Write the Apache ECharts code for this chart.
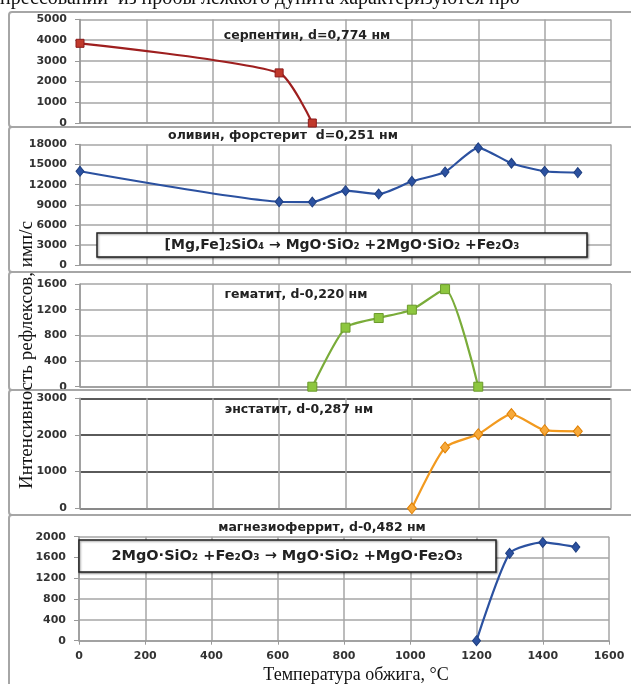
<!DOCTYPE html>
<html>
<head>
<meta charset="utf-8">
<script src="https://cdn.jsdelivr.net/npm/echarts@6.0.0/dist/echarts.min.js"></script>
<style>
html, body { margin: 0; padding: 0; background: #fff; }
#chart { width: 631px; height: 684px; }
</style>
</head>
<body>
<div id="chart"></div>
<script>
// температура обжига, °C / интенсивность, имп/с
var serpT = [0, 600, 700];
var serpV = [3850, 2420, 0];

var olivT = [0, 600, 700, 800, 900, 1000, 1100, 1200, 1300, 1400, 1500];
var olivV = [14000, 9450, 9400, 11100, 10600, 12500, 13900, 17500, 15200, 14000, 13800];

var hemT = [700, 800, 900, 1000, 1100, 1200];
var hemV = [0, 920, 1070, 1200, 1520, 0];

var enstT = [1000, 1100, 1200, 1300, 1400, 1500];
var enstV = [0, 1660, 2020, 2570, 2130, 2100];

var magT = [1200, 1300, 1400, 1500];
var magV = [0, 1680, 1890, 1800];

// шкалы
var xMax = 1600, xStep = 200;
var yMax = [5000, 18000, 1600, 3000, 2000];
var yStep = [1000, 3000, 400, 1000, 400];

var names = ['серпентин, d=0,774 нм', 'оливин, форстерит  d=0,251 нм', 'гематит, d-0,220 нм',
             'энстатит, d-0,287 нм', 'магнезиоферрит, d-0,482 нм'];
var eq1 = '[Mg,Fe]₂SiO₄ → MgO·SiO₂ +2MgO·SiO₂ +Fe₂O₃';
var eq2 = '2MgO·SiO₂ +Fe₂O₃ → MgO·SiO₂ +MgO·Fe₂O₃';

function zip(t, v) {
    let out = [];
    for (let i = 0; i < t.length; i++) out.push([t[i], v[i]]);
    return out;
}

var myChart = echarts.init(document.getElementById('chart'));

// расположение панелей
var gridTop = [19.5, 144.5, 284, 398.3, 536.7];
var gridH = [103.5, 120.5, 102.7, 110, 104];
var panelTop = [12, 127, 272, 390, 515, 700];
var titlePos = [[307, 36], [283, 136], [296, 295], [299, 410], [322, 528]];

var labelFont = { color: '#333', fontSize: 11, fontWeight: 'bold', fontFamily: 'DejaVu Sans',
                  formatter: function (v) { return String(v); } };

var grids = [], xAxes = [], yAxes = [];
for (let i = 0; i < 5; i++) {
    grids.push({ left: i == 4 ? 79 : 80, right: i == 4 ? 22 : 20, top: gridTop[i], height: gridH[i] });
    xAxes.push({
        gridIndex: i, type: 'value', min: 0, max: xMax, interval: xStep,
        axisLine: { show: true, lineStyle: { color: '#999', width: 1.5 } },
        axisTick: { show: i == 4, length: 4, lineStyle: { color: '#999' } },
        axisLabel: Object.assign({ show: i == 4, margin: 10 }, labelFont),
        splitLine: { show: true, lineStyle: { color: '#a6a6a6', width: 1.5 } }
    });
    yAxes.push({
        gridIndex: i, type: 'value', min: 0, max: yMax[i], interval: yStep[i],
        axisLine: { show: true, lineStyle: { color: '#999', width: 1.5 } },
        axisTick: { show: true, length: 5, lineStyle: { color: '#999' } },
        axisLabel: Object.assign({ margin: 13 }, labelFont),
        splitLine: { show: true, lineStyle: i == 3 ? { color: '#5a5a5a', width: 2 } : { color: '#a6a6a6', width: 1.5 } }
    });
}

function line(idx, data, color, symbol, fill, border, size) {
    return {
        type: 'line', xAxisIndex: idx, yAxisIndex: idx, data: data,
        smooth: 0.2, symbol: symbol, symbolSize: size,
        lineStyle: { color: color, width: 2.2 },
        itemStyle: { color: fill, borderColor: border, borderWidth: 1 },
        z: 5
    };
}

var graphics = [];
// рамки панелей
for (let i = 0; i < 5; i++) {
    graphics.push({
        type: 'rect', shape: { x: 9, y: panelTop[i], width: 640, height: panelTop[i + 1] - panelTop[i], r: 3 },
        style: { fill: 'none', stroke: '#a6a6a6', lineWidth: 2 }, z: 1
    });
}
// заголовки панелей
for (let i = 0; i < 5; i++) {
    graphics.push({
        type: 'text', x: titlePos[i][0], y: titlePos[i][1],
        style: { text: names[i], align: 'center', verticalAlign: 'middle',
                 font: 'bold 12.5px "DejaVu Sans"', fill: '#222' }, z: 20
    });
}
// уравнения реакций
graphics.push({
    type: 'rect', shape: { x: 97, y: 233, width: 490, height: 24 },
    style: { fill: '#fff', stroke: '#222', lineWidth: 1.5, shadowBlur: 2, shadowOffsetX: 1, shadowOffsetY: 1, shadowColor: 'rgba(0,0,0,0.4)' }, z: 20
});
graphics.push({
    type: 'text', x: 342, y: 245.5,
    style: { text: eq1, align: 'center', verticalAlign: 'middle', font: 'bold 14px "DejaVu Sans"', fill: '#222' }, z: 21
});
graphics.push({
    type: 'rect', shape: { x: 79, y: 540, width: 417, height: 32 },
    style: { fill: '#fff', stroke: '#222', lineWidth: 1.5, shadowBlur: 2, shadowOffsetX: 1, shadowOffsetY: 1, shadowColor: 'rgba(0,0,0,0.4)' }, z: 20
});
graphics.push({
    type: 'text', x: 287, y: 556,
    style: { text: eq2, align: 'center', verticalAlign: 'middle', font: 'bold 14.5px "DejaVu Sans"', fill: '#222' }, z: 21
});
// подписи осей
graphics.push({
    type: 'text', x: 27, y: 355, rotation: Math.PI / 2,
    style: { text: 'Интенсивность рефлексов, имп/с', align: 'center', verticalAlign: 'middle',
             font: '19px "Liberation Serif"', fill: '#111' }, z: 22
});
graphics.push({
    type: 'text', x: 356, y: 675,
    style: { text: 'Температура обжига, °C', align: 'center', verticalAlign: 'middle',
             font: '18px "Liberation Serif"', fill: '#111' }, z: 22
});
// обрезанная строка текста сверху
graphics.push({
    type: 'text', x: 0, y: 9,
    style: { text: 'прессований  из пробы лежкого дунита характеризуются про', align: 'left', verticalAlign: 'bottom',
             font: '20px "Liberation Serif"', fill: '#111' }, z: 22
});

option = {
    animation: false,
    backgroundColor: '#fff',
    grid: grids,
    xAxis: xAxes,
    yAxis: yAxes,
    graphic: graphics,
    series: [
        line(0, zip(serpT, serpV), '#9e1f1f', 'rect', '#c0392b', '#8b1a1a', 8),
        line(1, zip(olivT, olivV), '#2b51a0', 'diamond', '#2b51a0', '#1f3f80', [8, 10]),
        line(2, zip(hemT, hemV), '#7aac3a', 'rect', '#8dc63f', '#6a9a2a', 9),
        line(3, zip(enstT, enstV), '#f29a1f', 'diamond', '#f7a93a', '#e07f00', [9, 11]),
        line(4, zip(magT, magV), '#2b51a0', 'diamond', '#2b51a0', '#1f3f80', [8, 10])
    ]
};

myChart.setOption(option);
</script>
</body>
</html>
